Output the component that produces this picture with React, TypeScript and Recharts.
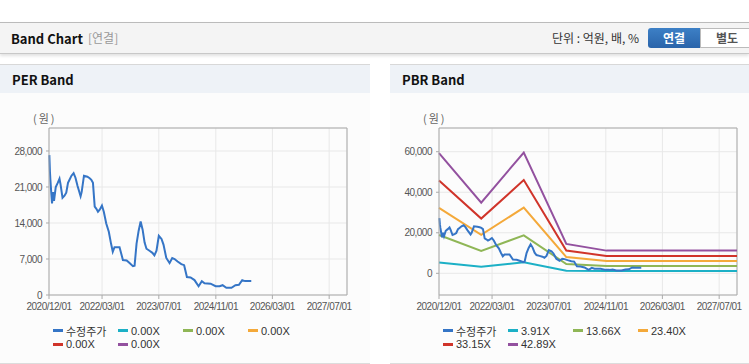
import { LineChart, Line, XAxis, YAxis, CartesianGrid, ReferenceLine } from 'recharts';

// adjusted close price (수정주가)
const priceDates = [
  '2020/12/04', '2020/12/09', '2020/12/13', '2020/12/20', '2020/12/27', '2021/01/05', '2021/01/13',
  '2021/01/28', '2021/02/14', '2021/03/01', '2021/03/10', '2021/03/27', '2021/04/13', '2021/04/28',
  '2021/05/13', '2021/05/26', '2021/06/12', '2021/06/30', '2021/07/16', '2021/08/03', '2021/08/29',
  '2021/09/07', '2021/09/27', '2021/10/26', '2021/11/15', '2021/11/29', '2021/12/13', '2021/12/28',
  '2022/01/10', '2022/01/25', '2022/02/09', '2022/02/28', '2022/03/16', '2022/04/06', '2022/04/28',
  '2022/05/17', '2022/06/01', '2022/06/16', '2022/07/29', '2022/08/27', '2022/09/28', '2022/10/23',
  '2022/11/21', '2022/12/05', '2022/12/22', '2023/01/09', '2023/01/26', '2023/02/12', '2023/03/01',
  '2023/03/17', '2023/04/12', '2023/05/07', '2023/05/24', '2023/06/11', '2023/07/01', '2023/07/24',
  '2023/08/10', '2023/09/03', '2023/10/01', '2023/10/24', '2023/11/13', '2023/12/09', '2024/01/10',
  '2024/02/03', '2024/02/27', '2024/03/29', '2024/05/02', '2024/06/06', '2024/07/04', '2024/07/27',
  '2024/09/17', '2024/10/30', '2024/12/03', '2024/12/29', '2025/01/30', '2025/03/15', '2025/04/18',
  '2025/05/18', '2025/06/15', '2025/07/09', '2025/09/01',
];
const priceValues = [
  27200, 24000, 22400, 20000, 17800, 20000, 18300,
  21000, 21800, 22600, 21500, 18900, 19300, 19900,
  21800, 22400, 23200, 23700, 22800, 21200, 19200,
  20000, 23200, 23000, 22700, 22400, 21800, 17200,
  16800, 16200, 16600, 17400, 16200, 13900, 12300,
  10000, 8400, 9300, 9300, 6800, 6700, 6200,
  5600, 5700, 10000, 12500, 14300, 12700, 10200,
  9000, 8600, 8200, 7700, 8600, 11500, 10900,
  9800, 7200, 6200, 7200, 7000, 6500, 6000,
  5800, 3500, 3400, 2900, 1700, 2700, 2300,
  2200, 1700, 1700, 1900, 1400, 1400, 1900,
  2000, 2900, 2700, 2700,
];

// PBR band lines
const bandDates = ['2020/12/01', '2021/11/28', '2022/11/28', '2023/11/28', '2024/11/06', '2027/12/01'];
const band391 = [5300, 3200, 5400, 1300, 1200, 1200];
const band1366 = [18900, 11100, 18700, 4600, 3600, 3600];
const band2340 = [32300, 19000, 32400, 8000, 6100, 6100];
const band3315 = [45800, 27000, 46000, 11200, 8600, 8600];
const band4289 = [59300, 34900, 59600, 14500, 11200, 11200];

const xTickLabels = ['2020/12/01', '2022/03/01', '2023/07/01', '2024/11/01', '2026/03/01', '2027/07/01'];
const xStart = '2020/12/01';
const xEnd = '2027/12/01';
const perTicks = [0, 7000, 14000, 21000, 28000];
const pbrTicks = [0, 20000, 40000, 60000];

const perLegend = ['수정주가', '0.00X', '0.00X', '0.00X', '0.00X', '0.00X'];
const pbrLegend = ['수정주가', '3.91X', '13.66X', '23.40X', '33.15X', '42.89X'];
const colors = ['#3575c6', '#1cb0c6', '#8fb656', '#f4a93a', '#d0342a', '#93519f'];

const toT = (s: string) => {
  const [y, m, d] = s.split('/').map(Number);
  return Date.UTC(y, m - 1, d);
};
const fmtT = (t: number) => {
  const d = new Date(t);
  const mm = String(d.getUTCMonth() + 1).padStart(2, '0');
  const dd = String(d.getUTCDate()).padStart(2, '0');
  return `${d.getUTCFullYear()}/${mm}/${dd}`;
};

const priceData = priceDates.map((d, i) => ({ t: toT(d), v: priceValues[i] }));
const bands = [band391, band1366, band2340, band3315, band4289].map((vals) =>
  bandDates.map((d, i) => ({ t: toT(d), v: vals[i] }))
);
const xTicks = xTickLabels.map(toT);
const xDomain = [toT(xStart), toT(xEnd)];

const tickStyle = { fontSize: 10, fill: '#555', fontFamily: 'Liberation Sans, Arial, sans-serif', letterSpacing: -0.5 };
const numFmt = (v: number) => v.toLocaleString('en-US');

function Legend({ labels }: { labels: string[] }) {
  return (
    <div style={{ position: 'absolute', left: 53, top: 259, width: 260, display: 'flex', flexWrap: 'wrap' }}>
      {labels.map((l, i) => (
        <div key={i} style={{ width: 65, height: 13.5, display: 'flex', alignItems: 'center', fontSize: 11, color: '#333', fontFamily: 'Liberation Sans, Arial, "Noto Sans CJK KR", sans-serif', whiteSpace: 'nowrap' }}>
          <span style={{ display: 'inline-block', width: 10, height: 3, background: colors[i], marginRight: 3 }} />
          {l}
        </div>
      ))}
    </div>
  );
}

function Band({ title, left, width, yDomain, yTicks, bandLines, legend }: {
  title: string; left: number; width: number; yDomain: number[]; yTicks: number[]; bandLines: boolean; legend: string[];
}) {
  return (
    <div style={{ position: 'absolute', left, top: 64, width, height: 298, background: '#fcfcfc', borderTop: '1px solid #d8d8d8', borderBottom: '1px solid #dcdcdc' }}>
      <div style={{ height: 28, background: '#eef2f7', padding: '0 12px', lineHeight: '29px', fontSize: 13, fontWeight: 700, color: '#111', fontFamily: '"Noto Sans CJK KR", sans-serif' }}>
        {title}
      </div>
      <div style={{ position: 'absolute', left: 33, top: 45, fontSize: 11, color: '#666', fontFamily: '"Noto Sans CJK KR", sans-serif', letterSpacing: 2 }}>(원)</div>
      <div style={{ position: 'absolute', left: 0, top: 35 }}>
        <LineChart width={width} height={215} margin={{ top: 28, right: width - 347, left: 0, bottom: 0 }}>
          <CartesianGrid stroke="#e8e8e8" />
          <XAxis dataKey="t" type="number" domain={xDomain} ticks={xTicks} interval={0} allowDuplicatedCategory={false}
            tickFormatter={fmtT} tick={tickStyle} tickSize={4} tickMargin={4} height={20} stroke="#aaa" />
          <YAxis type="number" domain={yDomain} ticks={yTicks} interval={0} allowDataOverflow
            tickFormatter={numFmt} tick={tickStyle} tickSize={3} tickMargin={4} width={49} stroke="#aaa" />
          <ReferenceLine y={yDomain[1]} stroke="#aaa" />
          <ReferenceLine x={xDomain[1]} stroke="#aaa" />
          {bandLines && bands.map((b, i) => (
            <Line key={i} data={b} dataKey="v" stroke={colors[i + 1]} strokeWidth={2} dot={false} isAnimationActive={false} />
          ))}
          <Line data={priceData} dataKey="v" stroke={colors[0]} strokeWidth={2} dot={false} isAnimationActive={false} />
        </LineChart>
      </div>
      <Legend labels={legend} />
    </div>
  );
}

export default function App() {
  return (
    <div style={{ position: 'absolute', left: 0, top: 0, width: 749, height: 364, overflow: 'hidden', background: '#fff' }}>
      <div style={{ position: 'absolute', left: 0, top: 22, width: 749, height: 30, background: '#f4f4f4', borderTop: '1px solid #bbb', borderBottom: '1px solid #c8c8c8', boxShadow: '0 2px 3px rgba(0,0,0,0.12)', fontFamily: '"Noto Sans CJK KR", sans-serif' }}>
        <span style={{ position: 'absolute', left: 11, top: 6, fontSize: 13, fontWeight: 700, color: '#111' }}>Band Chart</span>
        <span style={{ position: 'absolute', left: 88, top: 6, fontSize: 12, color: '#999' }}>[연결]</span>
        <span style={{ position: 'absolute', left: 552, top: 6, fontSize: 12, color: '#333' }}>단위 : 억원, 배, %</span>
        <div style={{ position: 'absolute', left: 648, top: 5, width: 52, height: 20, borderRadius: '3px 0 0 3px', background: 'linear-gradient(#3d80c6, #2a64aa)', color: '#fff', fontSize: 12, fontWeight: 700, textAlign: 'center', lineHeight: '20px' }}>연결</div>
        <div style={{ position: 'absolute', left: 700, top: 5, width: 52, height: 18, border: '1px solid #bbb', background: '#fff', color: '#555', fontSize: 12, fontWeight: 700, textAlign: 'center', lineHeight: '18px', boxSizing: 'content-box' }}>별도</div>
      </div>
      <Band title="PER Band" left={0} width={370} yDomain={[0, 32470]} yTicks={perTicks} bandLines={false} legend={perLegend} />
      <Band title="PBR Band" left={390} width={359} yDomain={[-10700, 71700]} yTicks={pbrTicks} bandLines legend={pbrLegend} />
    </div>
  );
}
